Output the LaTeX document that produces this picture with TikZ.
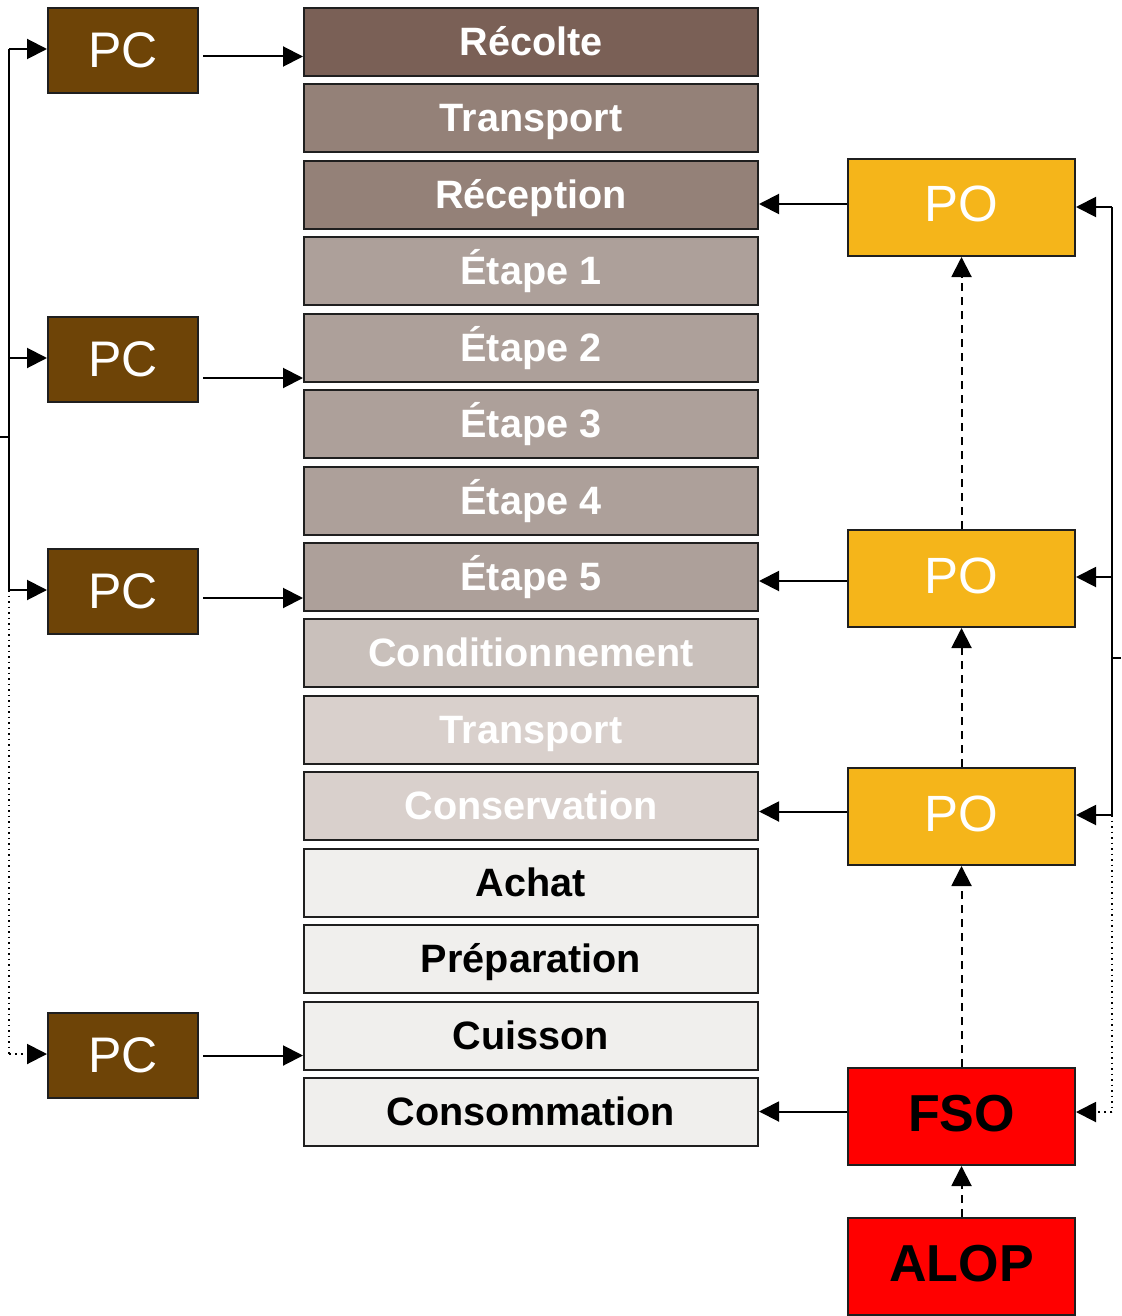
\documentclass[tikz,border=0pt]{standalone}
\usepackage{fontspec}
\setmainfont{Liberation Sans}
\usetikzlibrary{arrows.meta,calc}
\definecolor{cRecolte}{HTML}{7A6056}
\definecolor{cTrans}{HTML}{948178}
\definecolor{cEtape}{HTML}{ADA09A}
\definecolor{cCond}{HTML}{C9C0BB}
\definecolor{cLight}{HTML}{D9D0CC}
\definecolor{cPale}{HTML}{F0EFED}
\definecolor{pcbrown}{HTML}{6E4407}
\definecolor{poyellow}{HTML}{F5B51A}
\definecolor{fsored}{HTML}{FF0000}
\begin{document}
\begin{tikzpicture}[x=0.5pt,y=-0.5pt,
  stepbox/.style={draw=black!88,line width=1pt,rectangle,inner sep=0pt,anchor=north west,
    minimum width=227pt,minimum height=34pt,text height=13.5pt,text depth=0pt,
    font=\fontsize{19.8pt}{22pt}\selectfont\bfseries},
  pcbox/.style={draw=black!88,line width=1pt,rectangle,inner sep=0pt,anchor=north west,
    minimum width=75pt,minimum height=42.5pt,fill=pcbrown,text=white,font=\fontsize{25pt}{28pt}\selectfont},
  pobox/.style={draw=black!88,line width=1pt,rectangle,inner sep=0pt,anchor=north west,
    minimum width=113.5pt,minimum height=48.5pt,fill=poyellow,text=white,
    text height=18pt,text depth=3.5pt,font=\fontsize{25.5pt}{28pt}\selectfont},
  redbox/.style={pobox,fill=fsored,text=black,font=\fontsize{26pt}{28pt}\selectfont\bfseries},
  link/.style={line width=1pt},
  arr/.style={-{Triangle[length=10pt,width=10pt]},line width=1pt},
  dashlink/.style={arr,dash pattern=on 4pt off 3pt},
  dotlink/.style={line width=0.75pt,dotted}]
\useasboundingbox (0,0) rectangle (1121,1316);
% process steps
\node[stepbox,fill=cRecolte,text=white] (s1) at (303,7) {Récolte};
\node[stepbox,fill=cTrans,text=white] (s2) at (303,83.4) {Transport};
\node[stepbox,fill=cTrans,text=white] (s3) at (303,159.9) {Réception};
\node[stepbox,fill=cEtape,text=white] (s4) at (303,236.3) {Étape 1};
\node[stepbox,fill=cEtape,text=white] (s5) at (303,312.7) {Étape 2};
\node[stepbox,fill=cEtape,text=white] (s6) at (303,389.1) {Étape 3};
\node[stepbox,fill=cEtape,text=white] (s7) at (303,465.6) {Étape 4};
\node[stepbox,fill=cEtape,text=white] (s8) at (303,542) {Étape 5};
\node[stepbox,fill=cCond,text=white] (s9) at (303,618.4) {Conditionnement};
\node[stepbox,fill=cLight,text=white] (s10) at (303,694.9) {Transport};
\node[stepbox,fill=cLight,text=white] (s11) at (303,771.3) {Conservation};
\node[stepbox,fill=cPale,text=black] (s12) at (303,847.7) {Achat};
\node[stepbox,fill=cPale,text=black] (s13) at (303,924.2) {Préparation};
\node[stepbox,fill=cPale,text=black] (s14) at (303,1000.6) {Cuisson};
\node[stepbox,fill=cPale,text=black] (s15) at (303,1077) {Consommation};
% PC boxes
\node[pcbox] (pc1) at (47,7) {PC};
\node[pcbox] (pc2) at (47,316) {PC};
\node[pcbox] (pc3) at (47,548) {PC};
\node[pcbox] (pc4) at (47,1012) {PC};
% PO / FSO / ALOP
\node[pobox] (po1) at (847,158) {PO};
\node[pobox] (po2) at (847,529) {PO};
\node[pobox] (po3) at (847,767) {PO};
\node[redbox] (fso) at (847,1067) {FSO};
\node[redbox] (alop) at (847,1217) {ALOP};
% PC -> steps
\coordinate (a1) at ($(pc1.east)+(4,6)$);
\coordinate (a2) at ($(pc2.east)+(4,18.5)$);
\coordinate (a3) at ($(pc3.east)+(4,6.5)$);
\coordinate (a4) at ($(pc4.east)+(4,0)$);
\draw[arr] (a1) -- (a1 -| s1.west);
\draw[arr] (a2) -- (a2 -| s5.west);
\draw[arr] (a3) -- (a3 -| s8.west);
\draw[arr] (a4) -- (a4 -| s14.west);
% left bus
\coordinate (l1) at (9,49);
\coordinate (l2) at (9,358);
\coordinate (l3) at (9,590);
\coordinate (l4) at (9,1054);
\coordinate (lin) at (0,437);
\draw[link] (lin) -- (lin -| l1);
\draw[link] (l1) -- (l3);
\draw[arr] (l1) -- (l1 -| pc1.west);
\draw[arr] (l2) -- (l2 -| pc2.west);
\draw[arr] (l3) -- (l3 -| pc3.west);
\draw[dotlink] (l3) -- (l4);
\draw[arr,dotted] (l4) -- (l4 -| pc4.west);
% PO -> steps
\coordinate (b1) at ($(po1.west)+(0,-3.5)$);
\coordinate (b2) at ($(po2.west)+(0,2.5)$);
\coordinate (b3) at ($(po3.west)+(0,-5)$);
\coordinate (b4) at ($(fso.west)+(0,-5)$);
\draw[arr] (b1) -- (b1 -| s3.east);
\draw[arr] (b2) -- (b2 -| s8.east);
\draw[arr] (b3) -- (b3 -| s11.east);
\draw[arr] (b4) -- (b4 -| s15.east);
% dashed chain
\draw[dashlink] (po2.north) -- (po1.south);
\draw[dashlink] (po3.north) -- (po2.south);
\draw[dashlink] (fso.north) -- (po3.south);
\draw[dashlink] (alop.north) -- (fso.south);
% right bus
\coordinate (r1) at (1112,207);
\coordinate (r2) at (1112,577);
\coordinate (r3) at (1112,815);
\coordinate (r4) at (1112,1112);
\coordinate (rin) at (1121,658);
\draw[link] (rin) -- (rin -| r1);
\draw[link] (r1) -- (r3);
\draw[arr] (r1) -- (r1 -| po1.east);
\draw[arr] (r2) -- (r2 -| po2.east);
\draw[arr] (r3) -- (r3 -| po3.east);
\draw[dotlink] (r3) -- (r4);
\draw[arr,dotted] (r4) -- (r4 -| fso.east);
\end{tikzpicture}
\end{document}
